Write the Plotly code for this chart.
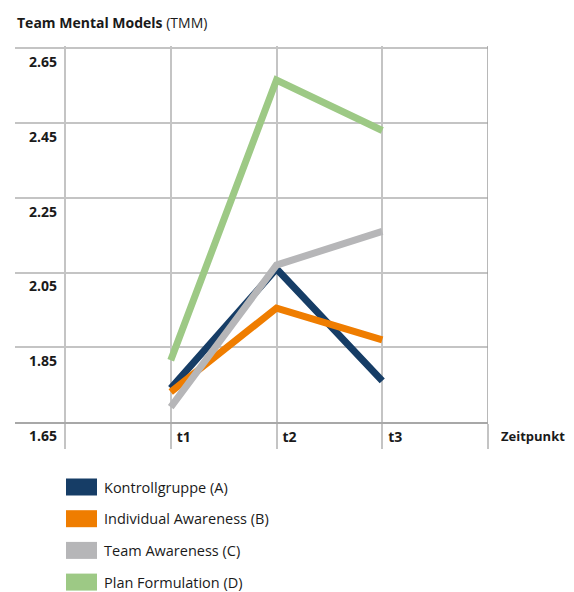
import plotly.graph_objects as go

# ---- data ----
zeitpunkte = ["t1", "t2", "t3"]
x_index = [1, 2, 3]
kontrollgruppe = [1.74, 2.06, 1.76]
individual_awareness = [1.73, 1.955, 1.87]
team_awareness = [1.69, 2.07, 2.16]
plan_formulation = [1.815, 2.565, 2.43]

series_names = ["Kontrollgruppe (A)", "Individual Awareness (B)",
                "Team Awareness (C)", "Plan Formulation (D)"]
series_values = [kontrollgruppe, individual_awareness, team_awareness, plan_formulation]
series_colors = ["#163d66", "#ef7d00", "#b6b6b8", "#9dc985"]

y_ticks = [1.65, 1.85, 2.05, 2.25, 2.45, 2.65]
x_tickvals = [0, 1, 2, 3, 4]
x_ticktext = [""] + zeitpunkte + [""]

FONT = "Open Sans"
W, H = 574, 592
ML, MR, MT, MB = 15, 86, 46, 170
PW, PH = W - ML - MR, H - MT - MB


def px_x(px):
    return (px - ML) / PW


def px_y(py):
    return (H - MB - py) / PH


fig = go.Figure()
for name, vals, col in zip(series_names, series_values, series_colors):
    fig.add_trace(go.Scatter(x=x_index, y=vals, mode="lines", name=name,
                             line=dict(color=col, width=7), showlegend=False,
                             cliponaxis=False))

grid_col = "#c4c4c4"
fig.update_layout(
    width=W, height=H,
    margin=dict(l=ML, r=MR, t=MT, b=MB, autoexpand=False),
    paper_bgcolor="white", plot_bgcolor="white",
    font=dict(family=FONT, color="#1a1a1a"),
    xaxis=dict(range=[-0.4728, 4.0], tickvals=x_tickvals, ticktext=x_ticktext,
               showgrid=True, gridcolor=grid_col, gridwidth=1.5,
               zeroline=False, showline=True, linecolor="#a8a8a8", linewidth=2,
               ticks="outside", ticklen=25, tickcolor=grid_col, tickwidth=1.5,
               tickfont=dict(family=FONT, size=14, weight="bold", color="#1a1a1a"),
               ticklabelshift=13, ticklabelstandoff=-24),
    yaxis=dict(range=[1.65, 2.6562], tickvals=y_ticks,
               ticktext=[f"{v:.2f}" for v in y_ticks],
               anchor="free", position=px_x(65), side="left",
               showgrid=True, gridcolor=grid_col, gridwidth=1.5,
               zeroline=False, showline=False, ticks="",
               tickfont=dict(family=FONT, size=14, weight="bold", color="#1a1a1a"),
               ticklabelshift=14, ticklabelstandoff=8),
)

# right border
fig.add_shape(type="line", xref="x", yref="paper", x0=4, x1=4, y0=0, y1=1,
              line=dict(color="#a0a0a0", width=1.5))

# title
fig.add_annotation(x=px_x(15), y=px_y(22.5), xref="paper", yref="paper",
                   xanchor="left", yanchor="middle", showarrow=False,
                   text="<b>Team Mental Models</b> (TMM)",
                   font=dict(family=FONT, size=14, color="#1a1a1a"))

# x axis title
fig.add_annotation(x=px_x(499), y=px_y(436.5), xref="paper", yref="paper",
                   xanchor="left", yanchor="middle", showarrow=False,
                   text="<b>Zeitpunkt</b>",
                   font=dict(family=FONT, size=13, color="#1a1a1a"))

# custom legend
for i, (name, col) in enumerate(zip(series_names, series_colors)):
    cy = 487 + 31.7 * i
    fig.add_shape(type="rect", xref="paper", yref="paper",
                  x0=px_x(66), x1=px_x(97), y0=px_y(cy - 8.5), y1=px_y(cy + 8.5),
                  fillcolor=col, line=dict(width=0))
    fig.add_annotation(x=px_x(103), y=px_y(cy), xref="paper", yref="paper",
                       xanchor="left", yanchor="middle", showarrow=False,
                       borderpad=0,
                       text=name, font=dict(family=FONT, size=14.5, color="#1a1a1a"))

fig.write_html("out.html")
